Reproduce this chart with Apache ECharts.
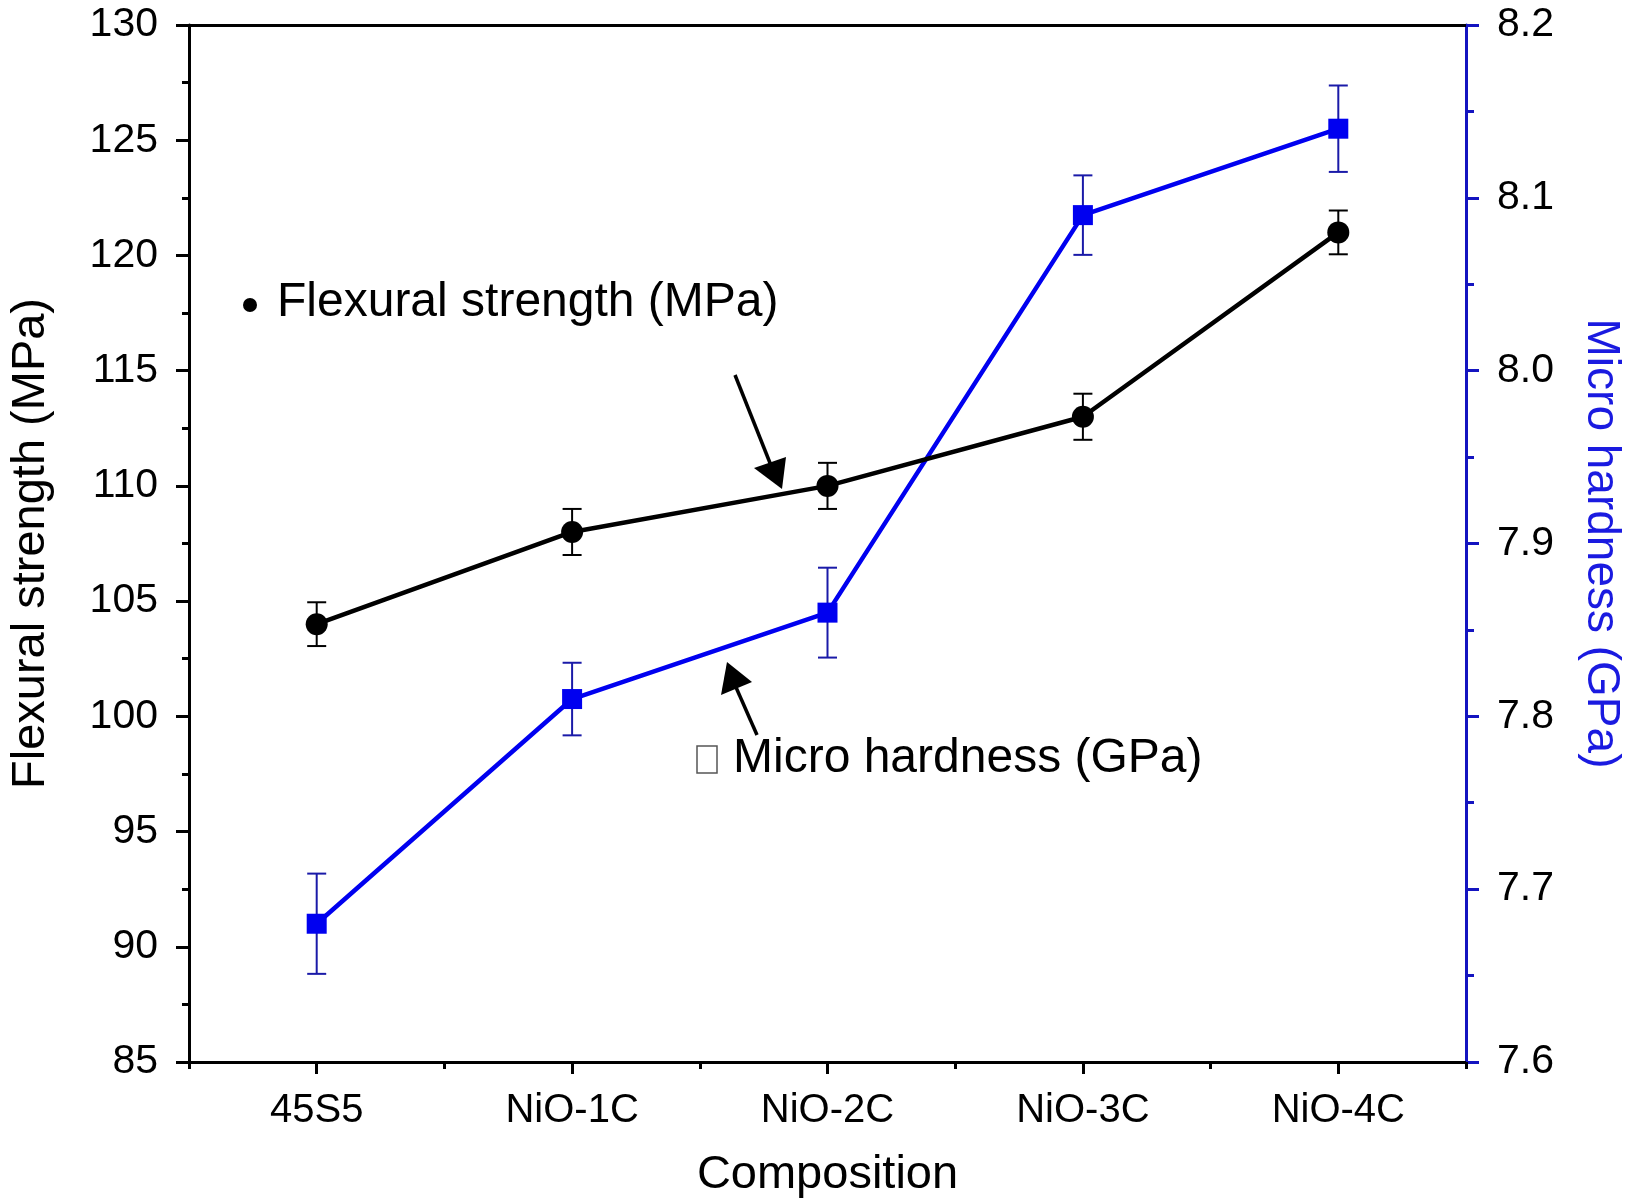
<!DOCTYPE html>
<html>
<head>
<meta charset="utf-8">
<script src="https://cdn.jsdelivr.net/npm/echarts@6/dist/echarts.min.js"></script>
<style>
html,body{margin:0;padding:0;background:#fff;}
#chart{width:1632px;height:1204px;}
</style>
</head>
<body>
<div id="chart"></div>
<script>
const categories = ['45S5', 'NiO-1C', 'NiO-2C', 'NiO-3C', 'NiO-4C'];
const flexural = [104, 108, 110, 113, 121];
const flexuralErr = [0.95, 1.0, 1.0, 1.0, 0.95];
const hardness = [7.68, 7.81, 7.86, 8.09, 8.14];
const hardnessErr = [0.029, 0.021, 0.026, 0.023, 0.025];
const leftAxisRange = [85, 130, 5];
const rightAxisRange = [7.6, 8.2, 0.1];

const FONT = 'Liberation Sans, Arial, Helvetica, sans-serif';
const BLUE = '#0000f0';
const AXIS_BLUE = '#1414c0';
const ERR_BLUE = '#1a1aa8';

const chart = echarts.init(document.getElementById('chart'), null, {renderer: 'canvas'});

function errorRenderer(color) {
  return function (params, api) {
    const idx = api.value(0);
    const lo = api.coord([idx, api.value(2)]);
    const hi = api.coord([idx, api.value(3)]);
    const hw = 9.5;
    const st = {stroke: color, lineWidth: 2};
    return {
      type: 'group',
      children: [
        {type: 'line', shape: {x1: lo[0], y1: lo[1], x2: hi[0], y2: hi[1]}, style: st},
        {type: 'line', shape: {x1: lo[0] - hw, y1: lo[1], x2: lo[0] + hw, y2: lo[1]}, style: st},
        {type: 'line', shape: {x1: hi[0] - hw, y1: hi[1], x2: hi[0] + hw, y2: hi[1]}, style: st}
      ]
    };
  };
}

const flexErrData = categories.map((c, i) => [i, flexural[i], flexural[i] - flexuralErr[i], flexural[i] + flexuralErr[i]]);
const hardErrData = categories.map((c, i) => [i, hardness[i], hardness[i] - hardnessErr[i], hardness[i] + hardnessErr[i]]);

const option = {
  backgroundColor: '#ffffff',
  animation: false,
  textStyle: {fontFamily: FONT},
  grid: {left: 186, right: 165, top: 25, bottom: 136, containLabel: false},
  xAxis: [
    {
      type: 'category',
      data: categories,
      position: 'bottom',
      boundaryGap: true,
      name: 'Composition',
      nameLocation: 'middle',
      nameGap: 90,
      nameTextStyle: {fontSize: 47, color: '#000', fontFamily: FONT},
      axisLine: {show: true, lineStyle: {color: '#000', width: 3}},
      axisTick: {show: true, alignWithLabel: true, inside: false, length: 12, lineStyle: {color: '#000', width: 3}},
      axisLabel: {fontSize: 40, color: '#000', margin: 29, fontFamily: FONT},
      splitLine: {show: false}
    },
    {
      type: 'category',
      data: categories,
      position: 'bottom',
      boundaryGap: true,
      axisLine: {show: false},
      axisTick: {show: true, alignWithLabel: false, length: 7, lineStyle: {color: '#000', width: 3}},
      axisLabel: {show: false},
      splitLine: {show: false}
    },
    {
      type: 'category',
      data: categories,
      position: 'top',
      boundaryGap: true,
      axisLine: {show: true, lineStyle: {color: '#000', width: 3}},
      axisTick: {show: false},
      axisLabel: {show: false},
      splitLine: {show: false}
    }
  ],
  yAxis: [
    {
      type: 'value',
      position: 'left',
      min: leftAxisRange[0],
      max: leftAxisRange[1],
      interval: leftAxisRange[2],
      name: 'Flexural strength (MPa)',
      nameLocation: 'middle',
      nameRotate: 90,
      nameGap: 134,
      nameTextStyle: {fontSize: 47, color: '#000', fontFamily: FONT},
      axisLine: {show: true, lineStyle: {color: '#000', width: 3}},
      axisTick: {show: true, inside: false, length: 13, lineStyle: {color: '#000', width: 3}},
      minorTick: {show: true, splitNumber: 2, length: 7, lineStyle: {color: '#000', width: 3}},
      axisLabel: {fontSize: 41, color: '#000', margin: 31, fontFamily: FONT},
      splitLine: {show: false}
    },
    {
      type: 'value',
      position: 'right',
      min: rightAxisRange[0],
      max: rightAxisRange[1],
      interval: rightAxisRange[2],
      name: 'Micro hardness (GPa)',
      nameLocation: 'middle',
      nameRotate: -90,
      nameGap: 112,
      nameTextStyle: {fontSize: 46, color: '#1a1ae0', fontFamily: FONT},
      axisLine: {show: true, lineStyle: {color: AXIS_BLUE, width: 3}},
      axisTick: {show: true, inside: false, length: 13, lineStyle: {color: AXIS_BLUE, width: 3}},
      minorTick: {show: true, splitNumber: 2, length: 8, lineStyle: {color: AXIS_BLUE, width: 3}},
      axisLabel: {fontSize: 41, color: '#000', margin: 31, fontFamily: FONT, formatter: v => v.toFixed(1)},
      splitLine: {show: false}
    }
  ],
  series: [
    {
      type: 'custom',
      name: 'Micro hardness error',
      xAxisIndex: 0,
      yAxisIndex: 1,
      renderItem: errorRenderer(ERR_BLUE),
      encode: {x: 0, y: [2, 3]},
      data: hardErrData,
      z: 1
    },
    {
      type: 'custom',
      name: 'Flexural strength error',
      xAxisIndex: 0,
      yAxisIndex: 0,
      renderItem: errorRenderer('#000'),
      encode: {x: 0, y: [2, 3]},
      data: flexErrData,
      z: 1
    },
    {
      type: 'line',
      name: 'Micro hardness (GPa)',
      xAxisIndex: 0,
      yAxisIndex: 1,
      data: hardness,
      symbol: 'rect',
      symbolSize: 20,
      lineStyle: {color: BLUE, width: 4.5},
      itemStyle: {color: BLUE},
      z: 3
    },
    {
      type: 'line',
      name: 'Flexural strength (MPa)',
      xAxisIndex: 0,
      yAxisIndex: 0,
      data: flexural,
      symbol: 'circle',
      symbolSize: 22,
      lineStyle: {color: '#000', width: 4.5},
      itemStyle: {color: '#000'},
      z: 4
    }
  ],
  graphic: [
    {type: 'circle', shape: {cx: 250, cy: 305, r: 7}, style: {fill: '#000'}, z: 10},
    {type: 'text', x: 277, y: 303, style: {text: 'Flexural strength (MPa)', font: '48px ' + FONT, fill: '#000', textAlign: 'left', textVerticalAlign: 'middle'}, z: 10},
    {type: 'rect', shape: {x: 697, y: 746, width: 20, height: 27}, style: {fill: '#fff', stroke: '#555', lineWidth: 1.5}, z: 10},
    {type: 'text', x: 733, y: 759, style: {text: 'Micro hardness (GPa)', font: '48px ' + FONT, fill: '#000', textAlign: 'left', textVerticalAlign: 'middle'}, z: 10},
    {type: 'line', shape: {x1: 735, y1: 375, x2: 772, y2: 468}, style: {stroke: '#000', lineWidth: 3.5}, z: 10},
    {type: 'polygon', shape: {points: [[754, 468], [786, 457], [782, 489]]}, style: {fill: '#000'}, z: 10},
    {type: 'line', shape: {x1: 757, y1: 735, x2: 735, y2: 685}, style: {stroke: '#000', lineWidth: 3.5}, z: 10},
    {type: 'polygon', shape: {points: [[721, 695], [727, 662], [752, 682]]}, style: {fill: '#000'}, z: 10}
  ]
};

chart.setOption(option);
</script>
</body>
</html>
